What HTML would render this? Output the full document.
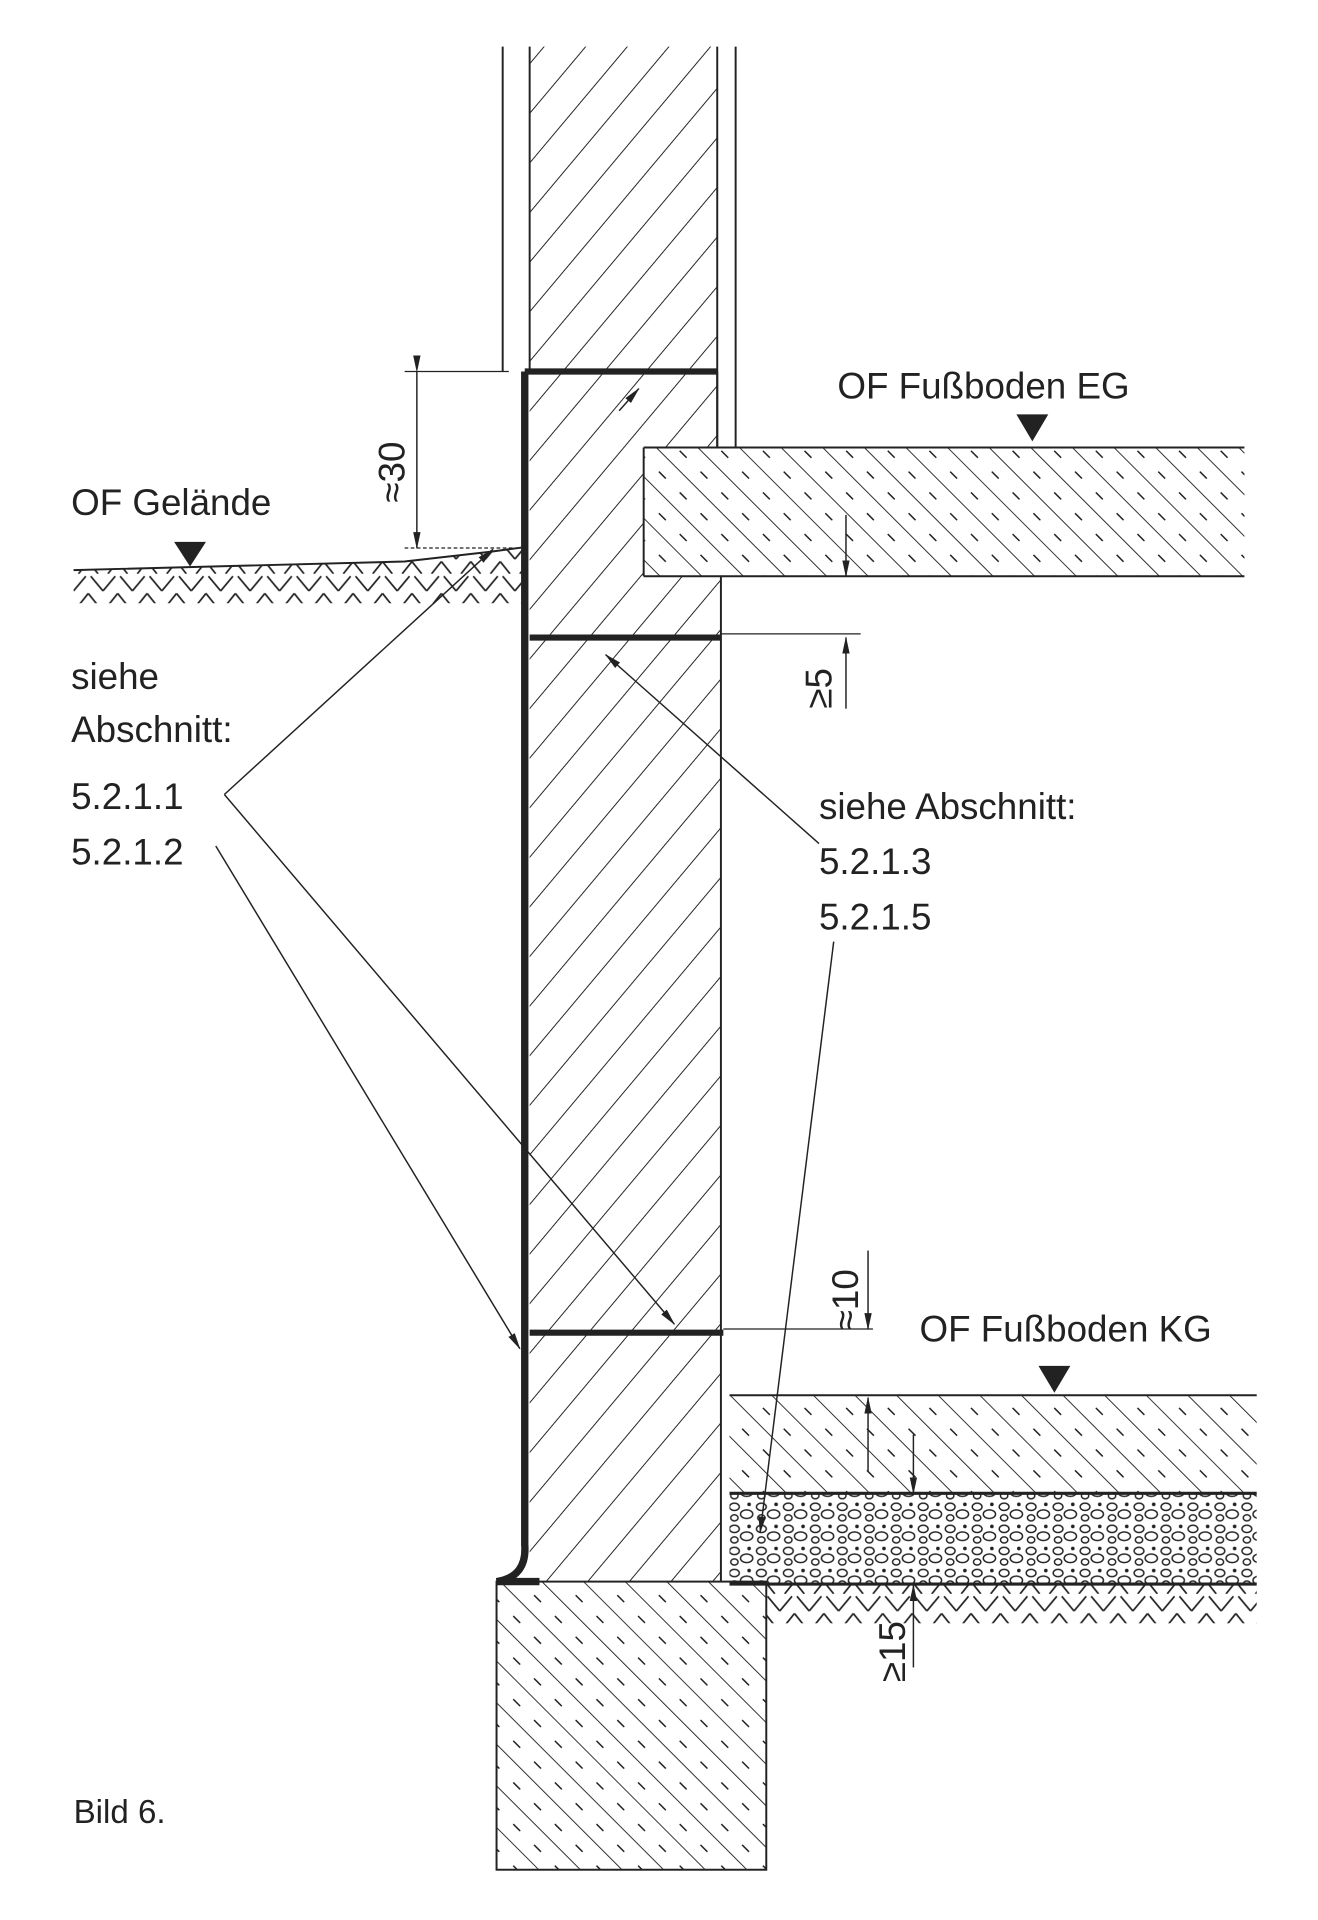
<!DOCTYPE html>
<html><head><meta charset="utf-8"><style>
html,body{margin:0;padding:0;background:#fff;}
svg{display:block;}
text{font-family:"Liberation Sans Narrow","Liberation Sans",sans-serif;fill:#222;}
</style></head><body>
<svg width="1318" height="1920" viewBox="0 0 1075 1566" xmlns="http://www.w3.org/2000/svg">
<defs>
<pattern id="fw" width="26" height="26" patternUnits="userSpaceOnUse" patternTransform="rotate(40)">
<line x1="0" y1="0" x2="0" y2="26" stroke="#222" stroke-width="1.6"/></pattern>
<pattern id="bw" width="24" height="24" patternUnits="userSpaceOnUse" patternTransform="rotate(-45)">
<line x1="0" y1="0" x2="0" y2="24" stroke="#222" stroke-width="1.5"/>
<line x1="12" y1="4" x2="12" y2="12" stroke="#222" stroke-width="1.2"/></pattern>
<pattern id="soil" width="24" height="26" patternUnits="userSpaceOnUse">
<path d="M2 2 L12 14 M12 14 L22 2 M0 16 L8 26 M16 26 L24 16" fill="none" stroke="#222" stroke-width="1.4"/></pattern>
<pattern id="grav" width="22" height="18" patternUnits="userSpaceOnUse">
<ellipse cx="5" cy="5" rx="4" ry="3" fill="none" stroke="#222" stroke-width="1.2"/>
<ellipse cx="15" cy="11" rx="5" ry="3.5" fill="none" stroke="#222" stroke-width="1.2"/>
<ellipse cx="5" cy="14" rx="3" ry="2.5" fill="none" stroke="#222" stroke-width="1.2"/>
<circle cx="17" cy="3" r="1.5" fill="#222"/></pattern>
<marker id="ar" markerWidth="14" markerHeight="8" refX="13" refY="4" orient="auto" markerUnits="userSpaceOnUse">
<path d="M0 1 L14 4 L0 7 Z" fill="#222"/></marker>
</defs>
<g stroke="#222" fill="none" stroke-width="1.6">
<rect x="432" y="38" width="153" height="265" fill="url(#fw)" stroke="none"/>
<line x1="410" y1="38" x2="410" y2="303"/><line x1="432" y1="38" x2="432" y2="303"/>
<line x1="585" y1="38" x2="585" y2="365"/><line x1="600" y1="38" x2="600" y2="365"/>
<path d="M432 303 L585 303 L585 365 L525 365 L525 470 L588 470 L588 1290 L432 1290 Z" fill="url(#fw)" stroke="none"/>
<line x1="585" y1="303" x2="585" y2="365"/>
<line x1="588" y1="470" x2="588" y2="1290"/>
<rect x="525" y="365" width="490" height="105" fill="url(#bw)" stroke="none"/>
<line x1="525" y1="365" x2="1015" y2="365"/><line x1="525" y1="470" x2="1015" y2="470"/><line x1="525" y1="365" x2="525" y2="470"/>
<rect x="595" y="1138" width="430" height="80" fill="url(#bw)" stroke="none"/>
<rect x="595" y="1218" width="430" height="74" fill="url(#grav)" stroke="none"/>
<rect x="625" y="1292" width="400" height="32" fill="url(#soil)" stroke="none"/>
<line x1="595" y1="1138" x2="1025" y2="1138"/>
<line x1="595" y1="1218" x2="1025" y2="1218" stroke-width="2.5"/>
<line x1="595" y1="1292" x2="1025" y2="1292" stroke-width="2.5"/>
<rect x="405" y="1290" width="220" height="235" fill="url(#bw)"/>
<path d="M60 465 L330 458 L400 450 L430 446 L430 492 L60 492 Z" fill="url(#soil)" stroke="none"/>
<path d="M60 465 L330 458 L400 450 L430 446"/>
<path d="M428 303 L585 303 M432 520 L588 520 M432 1087 L590 1087" stroke-width="5"/>
<path d="M428 303 L428 1260 Q430 1286 405 1290 L440 1290" stroke-width="6"/>
<line x1="330" y1="303" x2="415" y2="303" stroke-width="1"/>
<line x1="330" y1="447" x2="420" y2="447" stroke-width="1" stroke-dasharray="3 2"/>
<line x1="340" y1="303" x2="340" y2="447" stroke-width="1.2" marker-start="url(#ar)" marker-end="url(#ar)"/>
<line x1="588" y1="517" x2="702" y2="517" stroke-width="1"/>
<line x1="690" y1="420" x2="690" y2="470" stroke-width="1.2" marker-end="url(#ar)"/>
<line x1="690" y1="578" x2="690" y2="520" stroke-width="1.2" marker-end="url(#ar)"/>
<line x1="590" y1="1084" x2="712" y2="1084" stroke-width="1"/>
<line x1="708" y1="1020" x2="708" y2="1084" stroke-width="1.2" marker-end="url(#ar)"/>
<line x1="708" y1="1200" x2="708" y2="1140" stroke-width="1.2" marker-end="url(#ar)"/>
<line x1="745" y1="1170" x2="745" y2="1218" stroke-width="1.2" marker-end="url(#ar)"/>
<line x1="745" y1="1360" x2="745" y2="1293" stroke-width="1.2" marker-end="url(#ar)"/>
<path d="M142 442 L168 442 L155 462 Z M829 338 L855 338 L842 360 Z M847 1114 L873 1114 L860 1136 Z" fill="#222" stroke="none"/>
<g stroke-width="1.2">
<line x1="183" y1="648" x2="402" y2="448" marker-end="url(#ar)"/>
<line x1="183" y1="648" x2="550" y2="1080" marker-end="url(#ar)"/>
<line x1="176" y1="690" x2="424" y2="1100" marker-end="url(#ar)"/>
<line x1="668" y1="688" x2="494" y2="534" marker-end="url(#ar)"/>
<line x1="505" y1="335" x2="521" y2="317" marker-end="url(#ar)"/>
<line x1="680" y1="768" x2="620" y2="1250" marker-end="url(#ar)"/>
</g>
</g>
<g font-size="30">
<text x="58" y="420">OF Gelände</text>
<text x="683" y="325">OF Fußboden EG</text>
<text x="750" y="1094">OF Fußboden KG</text>
<text x="58" y="562">siehe</text>
<text x="58" y="605">Abschnitt:</text>
<text x="58" y="660">5.2.1.1</text>
<text x="58" y="705">5.2.1.2</text>
<text x="668" y="668">siehe Abschnitt:</text>
<text x="668" y="713">5.2.1.3</text>
<text x="668" y="758">5.2.1.5</text>
<text transform="translate(330,410) rotate(-90)">≈30</text>
<text transform="translate(678,578) rotate(-90)">≥5</text>
<text transform="translate(700,1085) rotate(-90)">≈10</text>
<text transform="translate(738,1372) rotate(-90)">≥15</text>
</g>
<text x="60" y="1487" font-size="27">Bild 6.</text>
</svg>
</body></html>
